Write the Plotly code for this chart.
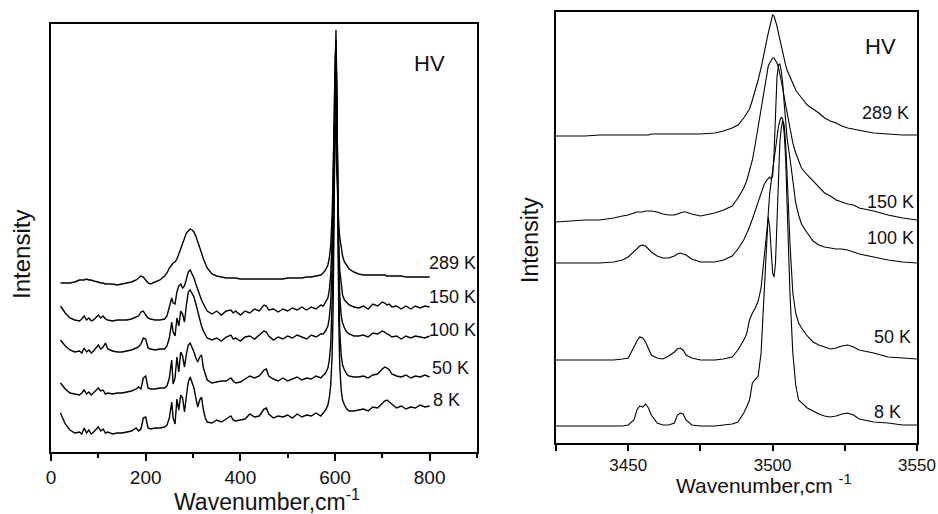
import plotly.graph_objects as go

# ---------------- Left panel data (wavenumber, cm-1) ----------------
LEFT_WN = [20, 30, 40, 50, 60, 65, 70, 75, 80, 85,
           90, 100, 105, 110, 115, 120, 130, 140, 150, 160,
           170, 180, 185, 190, 195, 200, 205, 210, 220, 230,
           240, 245, 250, 255, 258, 262, 266, 270, 274, 278,
           282, 286, 290, 294, 298, 302, 306, 310, 314, 318,
           322, 326, 330, 340, 350, 360, 370, 380, 385, 390,
           400, 410, 420, 430, 440, 450, 455, 460, 470, 480,
           490, 500, 510, 520, 530, 540, 550, 560, 570, 575,
           580, 585, 588, 591, 594, 596, 598, 600, 602, 604,
           606, 608, 610, 613, 616, 620, 625, 630, 640, 650,
           660, 670, 680, 690, 700, 705, 710, 715, 720, 730,
           740, 750, 760, 770, 780, 790, 800]

LEFT_8K = [39, 28, 22, 19, 20, 18, 24, 19, 22, 18,
           20, 25, 21, 23, 19, 20, 18, 19, 19, 20,
           21, 24, 21, 23, 34, 35, 24, 23, 24, 24,
           25, 27, 34, 50, 34, 28, 53, 42, 57, 54,
           40, 56, 70, 75, 70, 64, 54, 45, 52, 55,
           42, 34, 30, 29, 32, 30, 33, 36, 32, 31,
           32, 33, 38, 35, 36, 43, 44, 38, 34, 36,
           35, 37, 34, 38, 35, 37, 36, 39, 36, 39,
           42, 47, 54, 67, 97, 142, 232, 342, 422, 362,
           222, 132, 87, 62, 52, 47, 43, 41, 41, 42,
           43, 41, 45, 44, 49, 51, 52, 50, 48, 44,
           46, 43, 45, 44, 47, 45, 46]

LEFT_50K = [69, 63, 59, 58, 57, 59, 62, 58, 60, 57,
            59, 64, 61, 62, 58, 59, 58, 59, 59, 60,
            61, 63, 65, 63, 74, 76, 64, 63, 63, 64,
            64, 66, 74, 92, 68, 74, 95, 80, 100, 96,
            85, 98, 107, 109, 105, 100, 94, 90, 95, 97,
            84, 77, 72, 69, 70, 71, 71, 74, 71, 69,
            70, 73, 76, 74, 76, 82, 83, 76, 73, 71,
            74, 71, 73, 75, 72, 74, 73, 76, 74, 77,
            79, 84, 92, 107, 142, 182, 262, 362, 407, 352,
            242, 162, 122, 97, 87, 82, 78, 76, 75, 75,
            76, 74, 77, 78, 83, 85, 84, 82, 78, 76,
            75, 77, 74, 76, 75, 77, 75]

LEFT_100K = [112, 106, 102, 100, 101, 99, 104, 100, 102, 99,
             101, 107, 103, 105, 109, 103, 101, 100, 100, 101,
             102, 104, 105, 108, 114, 113, 104, 103, 102, 103,
             103, 106, 114, 130, 120, 116, 134, 126, 141, 138,
             130, 147, 160, 162, 159, 155, 148, 140, 134, 126,
             121, 117, 114, 112, 114, 111, 115, 117, 113, 114,
             111, 115, 116, 113, 117, 121, 120, 116, 112, 115,
             113, 116, 114, 117, 115, 113, 117, 115, 118, 118,
             121, 126, 134, 150, 187, 232, 312, 392, 412, 342,
             252, 187, 157, 137, 129, 124, 120, 118, 116, 116,
             117, 115, 119, 118, 121, 120, 118, 117, 115, 116,
             113, 116, 114, 116, 115, 114, 116]

LEFT_150K = [146, 139, 134, 132, 131, 133, 136, 132, 134, 131,
             132, 137, 134, 136, 133, 132, 131, 132, 132, 132,
             133, 135, 136, 140, 141, 137, 134, 133, 132, 132,
             133, 136, 144, 154, 149, 148, 160, 166, 168, 164,
             166, 174, 180, 182, 178, 174, 168, 162, 156, 152,
             148, 144, 141, 138, 141, 137, 141, 142, 139, 141,
             137, 141, 139, 143, 141, 147, 146, 142, 143, 140,
             143, 141, 144, 142, 145, 142, 145, 143, 147, 146,
             150, 154, 162, 177, 212, 252, 322, 382, 377, 322,
             252, 207, 182, 165, 157, 152, 149, 147, 145, 144,
             146, 143, 148, 146, 150, 149, 147, 148, 145, 146,
             143, 146, 143, 146, 144, 146, 145]

LEFT_289K = [169, 169, 169, 170, 172, 172, 172, 173, 172, 172,
             171, 170, 169, 169, 168, 168, 168, 167, 168, 169,
             170, 172, 174, 176, 175, 172, 169, 168, 170, 172,
             176, 179, 184, 188, 189, 190, 193, 198, 203, 209,
             215, 219, 221, 223, 222, 220, 216, 211, 205, 199,
             193, 188, 184, 178, 176, 175, 174, 174, 174, 174,
             173, 173, 173, 173, 173, 173, 173, 173, 173, 173,
             173, 174, 174, 174, 174, 175, 175, 176, 177, 179,
             182, 187, 194, 207, 237, 277, 327, 330, 312, 277,
             247, 227, 215, 204, 196, 190, 186, 183, 180, 178,
             177, 177, 177, 177, 177, 177, 176, 176, 176, 176,
             176, 175, 175, 175, 175, 175, 175]

# ---------------- Right panel data (wavenumber, cm-1) ----------------
RIGHT_WN = [3425, 3430, 3435, 3440, 3445, 3448, 3450, 3452, 3453, 3454,
            3455, 3456, 3457, 3458, 3460, 3462, 3464, 3466, 3467, 3468,
            3469, 3470, 3472, 3475, 3480, 3483, 3486, 3488, 3490, 3491,
            3492, 3493, 3494, 3495, 3496, 3497, 3498, 3498.5, 3499, 3499.5,
            3500, 3500.5, 3501, 3501.5, 3502, 3502.5, 3503, 3503.5, 3504, 3504.5,
            3505, 3506, 3507, 3508, 3509, 3510, 3512, 3514, 3516, 3518,
            3520, 3522, 3524, 3526, 3528, 3530, 3535, 3540, 3545, 3550]

RIGHT_289K = [307, 307, 307, 308, 308, 308, 308, 308, 308, 308,
              308, 308, 308, 309, 309, 309, 309, 309, 309, 309,
              309, 309, 309, 309, 310, 312, 315, 318, 325, 329,
              334, 343, 352, 363, 375, 390, 403, 410, 416, 423,
              428, 427, 423, 417, 410, 403, 396, 390, 384, 378,
              373, 366, 359, 353, 349, 345, 338, 334, 330, 325,
              322, 320, 317, 315, 314, 313, 310, 309, 308, 308]

RIGHT_150K = [221, 222, 223, 223, 225, 227, 228, 230, 231, 231,
              231, 232, 232, 232, 231, 229, 228, 228, 229, 230,
              231, 231, 229, 227, 230, 233, 237, 245, 255, 262,
              272, 283, 299, 316, 333, 353, 370, 377, 380, 383,
              385, 385, 383, 380, 376, 370, 362, 355, 346, 338,
              330, 313, 300, 290, 282, 275, 268, 262, 256, 250,
              247, 243, 241, 239, 238, 235, 232, 228, 225, 223]

RIGHT_100K = [180, 180, 180, 180, 181, 183, 186, 192, 195, 197,
              198, 197, 194, 191, 187, 185, 185, 187, 189, 190,
              189, 188, 184, 181, 181, 183, 187, 194, 203, 209,
              216, 224, 233, 241, 250, 258, 263, 265, 266, 264,
              267, 290, 330, 365, 378, 379, 372, 360, 340, 320,
              305, 285, 262, 240, 228, 219, 210, 202, 198, 196,
              195, 194, 194, 193, 191, 189, 186, 183, 181, 180]

RIGHT_50K = [83, 83, 83, 83, 83, 84, 85, 96, 102, 106,
             105, 101, 95, 88, 85, 84, 87, 91, 94, 95,
             93, 88, 85, 83, 83, 84, 86, 93, 103, 109,
             123, 130, 135, 142, 155, 183, 210, 226, 215, 190,
             170, 166, 180, 220, 270, 300, 315, 322, 318, 300,
             270, 200, 150, 130, 120, 115, 107, 101, 98, 96,
             94, 95, 97, 98, 96, 93, 90, 86, 85, 84]

RIGHT_8K = [17, 17, 17, 17, 17, 17, 18, 23, 33, 37,
            36, 39, 35, 28, 20, 18, 18, 20, 28, 30,
            29, 23, 18, 17, 17, 18, 19, 21, 30, 36,
            43, 60, 64, 67, 90, 150, 205, 230, 250, 262,
            270, 285, 298, 308, 316, 322, 326, 324, 310, 285,
            240, 150, 90, 58, 43, 40, 35, 32, 29, 27,
            26, 27, 29, 30, 28, 24, 21, 20, 18, 18]

LEFT_SERIES = [("8 K", LEFT_8K), ("50 K", LEFT_50K), ("100 K", LEFT_100K),
               ("150 K", LEFT_150K), ("289 K", LEFT_289K)]
RIGHT_SERIES = [("8 K", RIGHT_8K), ("50 K", RIGHT_50K), ("100 K", RIGHT_100K),
                ("150 K", RIGHT_150K), ("289 K", RIGHT_289K)]

# label positions (data coords)
LEFT_LABELS = [("289 K", 795, 189), ("150 K", 795, 155), ("100 K", 795, 122),
               ("50 K", 800, 84), ("8 K", 802, 52)]
RIGHT_LABELS = [("289 K", 3530.2, 330), ("150 K", 3531.9, 241), ("100 K", 3531.9, 205),
                ("50 K", 3534.3, 106), ("8 K", 3534.3, 31)]

FONT = "Liberation Sans, Arial, sans-serif"

fig = go.Figure()
for name, ys in LEFT_SERIES:
    fig.add_trace(go.Scatter(x=LEFT_WN, y=ys, mode="lines", name=name,
                             line=dict(color="black", width=1.4),
                             xaxis="x", yaxis="y", showlegend=False))
for name, ys in RIGHT_SERIES:
    fig.add_trace(go.Scatter(x=RIGHT_WN, y=ys, mode="lines", name=name,
                             line=dict(color="black", width=1.1),
                             xaxis="x2", yaxis="y2", showlegend=False))

ann = []
for t, x, y in LEFT_LABELS:
    ann.append(dict(text=t, x=x, y=y, xref="x", yref="y", xanchor="left",
                    yanchor="middle", showarrow=False,
                    font=dict(size=18, color="#111", family=FONT)))
for t, x, y in RIGHT_LABELS:
    ann.append(dict(text=t, x=x, y=y, xref="x2", yref="y2", xanchor="left",
                    yanchor="middle", showarrow=False,
                    font=dict(size=18, color="#111", family=FONT)))
ann.append(dict(text="HV", x=800, y=389, xref="x", yref="y", showarrow=False,
                xanchor="center", yanchor="middle",
                font=dict(size=22, color="#111", family=FONT)))
ann.append(dict(text="HV", x=3537.5, y=396, xref="x2", yref="y2", showarrow=False,
                xanchor="center", yanchor="middle",
                font=dict(size=22, color="#111", family=FONT)))
# axis titles
ann.append(dict(text="Intensity", x=0.0235, y=0.504, xref="paper", yref="paper",
                xanchor="center", yanchor="middle",
                textangle=-90, showarrow=False,
                font=dict(size=24, color="#111", family=FONT)))
ann.append(dict(text="Intensity", x=0.565, y=0.533, xref="paper", yref="paper",
                xanchor="center", yanchor="middle",
                textangle=-90, showarrow=False,
                font=dict(size=23, color="#111", family=FONT)))
ann.append(dict(text="Wavenumber,cm<sup>-1</sup>", x=0.2846, y=0.028,
                xref="paper", yref="paper", xanchor="center", yanchor="middle",
                showarrow=False,
                font=dict(size=23, color="#111", family=FONT)))
ann.append(dict(text="Wavenumber,cm <sup>-1</sup>", x=0.8145, y=0.0584,
                xref="paper", yref="paper", xanchor="center", yanchor="middle",
                showarrow=False,
                font=dict(size=21, color="#111", family=FONT)))

axis_common = dict(showline=True, linecolor="black", linewidth=1.8, mirror=True,
                   showgrid=False, zeroline=False, automargin=False)

fig.update_layout(
    width=938, height=514, autosize=False,
    margin=dict(l=0, r=0, t=0, b=0, pad=0, autoexpand=False),
    paper_bgcolor="white", plot_bgcolor="white",
    font=dict(family=FONT, color="#111"),
    annotations=ann,
    xaxis=dict(domain=[0.0544, 0.5085], range=[0, 900], anchor="y",
               ticks="outside", ticklen=7, tickwidth=1.5, tickcolor="black",
               tick0=0, dtick=200, tickfont=dict(size=19, family=FONT, color="#111"),
               minor=dict(ticks="outside", ticklen=4, tickwidth=1.5,
                          tickcolor="black", dtick=100, tick0=0, showgrid=False),
               **axis_common),
    yaxis=dict(domain=[0.1206, 0.9533], range=[0, 428], anchor="x",
               showticklabels=False, ticks="", **axis_common),
    xaxis2=dict(domain=[0.5928, 0.9776], range=[3425, 3550], anchor="y2",
                ticks="outside", ticklen=6, tickwidth=1.5, tickcolor="black",
                tick0=3450, dtick=50, tickfont=dict(size=17, family=FONT, color="#111"),
                minor=dict(ticks="outside", ticklen=6, tickwidth=1.5,
                           tickcolor="black", dtick=25, tick0=3450, showgrid=False),
                **axis_common),
    yaxis2=dict(domain=[0.1381, 0.9767], range=[0, 431], anchor="x2",
                showticklabels=False, ticks="", **axis_common),
)

fig.write_html(
    "out.html",
    config={"responsive": False, "displayModeBar": False},
    post_script="document.body.style.margin='0';document.body.style.padding='0';"
                "document.body.style.overflow='hidden';",
)
